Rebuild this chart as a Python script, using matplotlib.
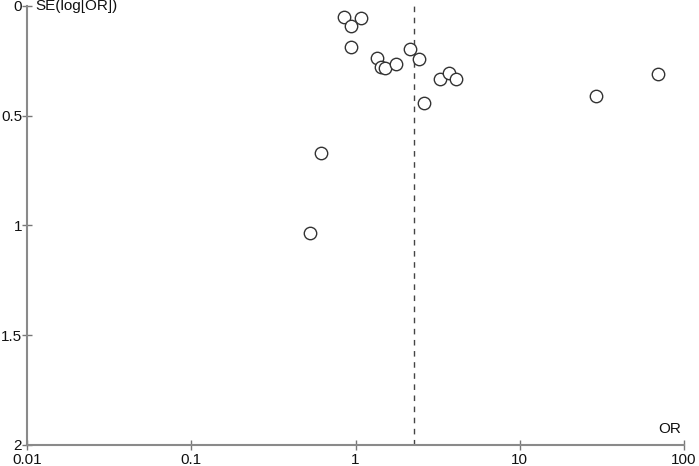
import matplotlib
matplotlib.use("Agg")
import matplotlib.pyplot as plt
from matplotlib.ticker import FixedLocator, FixedFormatter, NullLocator

plt.rcParams['font.family'] = ['Liberation Sans', 'DejaVu Sans']

odds_ratio = [0.851, 1.08, 0.94, 0.94, 1.35, 1.43, 1.51, 1.76, 2.15, 2.44,
              3.27, 3.71, 4.09, 2.61, 29.1, 69.5, 0.617, 0.528]
se_log_or = [0.052, 0.056, 0.091, 0.187, 0.236, 0.276, 0.284, 0.266, 0.194, 0.241,
             0.334, 0.307, 0.331, 0.440, 0.409, 0.311, 0.668, 1.035]
pooled_or = 2.27

x_ticks = [0.01, 0.1, 1, 10, 100]
x_tick_labels = ["0.01", "0.1", "1", "10", "100"]
y_ticks = [0, 0.5, 1, 1.5, 2]
y_tick_labels = ["0", "0.5", "1", "1.5", "2"]

fig = plt.figure(figsize=(6.99, 4.66), dpi=100)
W, H = 699, 466
x0, x1, y0, y1 = 27, 684, 6, 445
ax = fig.add_axes([x0 / W, (H - y1) / H, (x1 - x0) / W, (y1 - y0) / H])

ax.set_xscale('log')
ax.set_xlim(0.01, 100)
ax.set_ylim(2, 0)

ax.axvline(pooled_or, color='#444444', linestyle=(0, (4, 4)), linewidth=1.0, zorder=1)
ax.scatter(odds_ratio, se_log_or, s=80, facecolors='white', edgecolors='#333333',
           linewidths=1.0, zorder=3, clip_on=False)

for side in ['top', 'right']:
    ax.spines[side].set_visible(False)
for side in ['left', 'bottom']:
    ax.spines[side].set_color('#8a8a8a')
    ax.spines[side].set_linewidth(1.5)

ax.xaxis.set_major_locator(FixedLocator(x_ticks))
ax.xaxis.set_major_formatter(FixedFormatter(x_tick_labels))
ax.xaxis.set_minor_locator(NullLocator())
ax.yaxis.set_major_locator(FixedLocator(y_ticks))
ax.yaxis.set_major_formatter(FixedFormatter(y_tick_labels))

ax.tick_params(axis='both', direction='inout', length=7, width=1.0, color='#777777',
               labelsize=11, labelcolor='#111111')
ax.tick_params(axis='x', pad=2)
ax.tick_params(axis='y', pad=0)

ax.text(0.0113, 0.0, "SE(log[OR])", fontsize=11, color='#111111', ha='left', va='center')
ax.text(96, 1.925, "OR", fontsize=11, color='#111111', ha='right', va='center')

fig.savefig("out.png", dpi=100)
